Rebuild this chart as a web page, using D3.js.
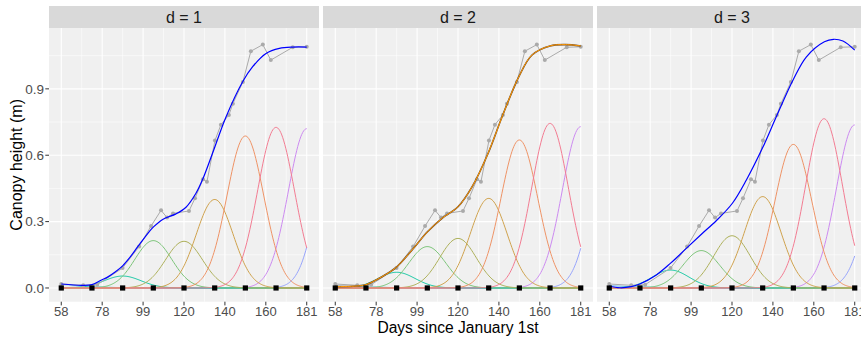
<!DOCTYPE html>
<html>
<head>
<meta charset="utf-8">
<script src="https://cdn.jsdelivr.net/npm/d3@7"></script>
<style>
  body { margin: 0; background: #fff; }
  svg { display: block; font-family: "Liberation Sans", Arial, sans-serif; }
</style>
</head>
<body>
<svg id="chart" width="861" height="338"></svg>
<script>
// facets
const panels = ["d = 1", "d = 2", "d = 3"];

// x axis
const xBreaks = [58, 78.5, 99, 119.5, 140, 160.5, 181];
const xLabels = ["58", "78", "99", "120", "140", "160", "181"];
const yBreaks = [0, 0.3, 0.6, 0.9];
const yLabels = ["0.0", "0.3", "0.6", "0.9"];

// kernel centres (last one sits past the data range)
const knots = [58, 73.375, 88.75, 104.125, 119.5, 134.875, 150.25, 165.625, 181, 196.375];
const kernelSd = 9.23;

// kernel heights per facet
const bumps1 = [0.015, 0.005, 0.054, 0.214, 0.211, 0.40, 0.687, 0.726, 0.72, 0.74];
const bumps2 = [0.008, 0.005, 0.071, 0.187, 0.224, 0.405, 0.669, 0.744, 0.729, 0.72];
const bumps3 = [0.010, 0.005, 0.081, 0.169, 0.236, 0.413, 0.649, 0.765, 0.737, 0.58];

// observed canopy height
const obsDays = [58, 69, 76, 88.7, 97, 103, 108, 111, 114, 122, 125, 129, 131, 135, 138, 142, 144, 149, 153, 159, 163, 174, 181];
const obsHeight = [0.018, 0.012, 0.015, 0.090, 0.187, 0.280, 0.351, 0.318, 0.337, 0.348, 0.405, 0.491, 0.480, 0.666, 0.738, 0.782, 0.833, 0.931, 1.070, 1.100, 1.030, 1.088, 1.090];

// fitted curves
const fitDays1 = [58, 68.2, 73.4, 78.2, 81, 85, 88.75, 92.1, 96.6, 102.1, 104.1, 108.8, 115.5, 120.5, 125.5, 128.8, 133.8, 140.6, 148.9, 153.9, 160.6, 167.3, 174, 181];
const fit1 = [0.018, 0.012, 0.015, 0.036, 0.048, 0.072, 0.10, 0.135, 0.19, 0.255, 0.275, 0.31, 0.335, 0.365, 0.428, 0.49, 0.609, 0.774, 0.932, 1.00, 1.06, 1.083, 1.089, 1.089];
const fitDays2 = [58, 69, 73.4, 81.4, 88.5, 96.5, 104.2, 111.5, 119.5, 126.6, 134.6, 141.6, 150, 156.6, 165.6, 173.3, 181];
const fit2 = [0.006, 0.009, 0.015, 0.051, 0.093, 0.172, 0.254, 0.315, 0.367, 0.458, 0.609, 0.774, 0.955, 1.053, 1.094, 1.100, 1.094];
const fitDays3 = [58, 63.3, 69, 73.3, 81.6, 88.6, 96.6, 104.3, 111.6, 119.7, 126.7, 134.7, 141.7, 150.1, 156.8, 165.8, 170.4, 175.1, 181];
const fit3 = [0.009, 0.001, 0.006, 0.018, 0.059, 0.111, 0.179, 0.244, 0.304, 0.383, 0.488, 0.631, 0.774, 0.940, 1.045, 1.113, 1.124, 1.116, 1.075];

const bumpColors = ["#6cb8f0", "#50c4d0", "#1cc8a5", "#7dc47a", "#adb05a", "#cfa24e", "#ee9366", "#f27c92", "#cc8af0", "#97a4fb"];
const drawOrder = [8, 9, 0, 1, 2, 3, 4, 5, 6, 7];

const svg = d3.select("#chart");
const panelW = 270;
const panelLefts = [49, 323, 597];
const panelTop = 28, panelBottom = 301.7;

const y = d3.scaleLinear().domain([-0.062, 1.175]).range([panelBottom, panelTop]);
const bumpSets = [bumps1, bumps2, bumps3];
const fits = [[fitDays1, fit1], [fitDays2, fit2], [fitDays3, fit3]];
const gridDays = d3.range(0, 13).map(i => 58 + i * 10.25);
const yMinor = [0.15, 0.45, 0.75, 1.05];

panels.forEach((label, p) => {
  const left = panelLefts[p];
  const x = d3.scaleLinear().domain([58 - 6.15, 181 + 6.15]).range([left, left + panelW]);
  const g = svg.append("g");

  g.append("clipPath").attr("id", "clip" + p)
    .append("rect").attr("x", left).attr("y", panelTop).attr("width", panelW).attr("height", panelBottom - panelTop);

  g.append("rect")
    .attr("x", left).attr("y", panelTop)
    .attr("width", panelW).attr("height", panelBottom - panelTop)
    .attr("fill", "#f0f0f0");

  // grid
  g.selectAll("line.ymin").data(yMinor).join("line")
    .attr("class", "ymin")
    .attr("x1", left).attr("x2", left + panelW)
    .attr("y1", d => y(d)).attr("y2", d => y(d))
    .attr("stroke", "#fff").attr("stroke-width", 0.55);
  g.selectAll("line.xgrid").data(gridDays).join("line")
    .attr("class", "xgrid")
    .attr("y1", panelTop).attr("y2", panelBottom)
    .attr("x1", d => x(d)).attr("x2", d => x(d))
    .attr("stroke", "#fff").attr("stroke-width", (d, i) => i % 2 === 0 ? 1.1 : 0.55);
  g.selectAll("line.ymaj").data(yBreaks).join("line")
    .attr("class", "ymaj")
    .attr("x1", left).attr("x2", left + panelW)
    .attr("y1", d => y(d)).attr("y2", d => y(d))
    .attr("stroke", "#fff").attr("stroke-width", 1.1);

  const plot = g.append("g").attr("clip-path", `url(#clip${p})`);

  // kernel bumps
  const days = d3.range(58, 181.01, 0.5);
  const line = d3.line().x(d => x(d[0])).y(d => y(d[1]));
  drawOrder.forEach(k => {
    const h = bumpSets[p][k];
    const pts = days.map(t => [t, h * Math.exp(-((t - knots[k]) ** 2) / (2 * kernelSd * kernelSd))]);
    plot.append("path")
      .attr("d", line(pts))
      .attr("fill", "none")
      .attr("stroke", bumpColors[k])
      .attr("stroke-width", 1);
  });

  // observed
  const obs = obsDays.map((d, i) => [d, obsHeight[i]]);
  plot.append("path")
    .attr("d", line(obs))
    .attr("fill", "none")
    .attr("stroke", "#aaaaaa")
    .attr("stroke-width", 1);
  plot.selectAll("circle").data(obs).join("circle")
    .attr("cx", d => x(d[0])).attr("cy", d => y(d[1]))
    .attr("r", 2).attr("fill", "#aaaaaa");

  // fit
  const smooth = d3.line().curve(d3.curveCatmullRom.alpha(0.5)).x(d => x(d[0])).y(d => y(d[1]));
  const fitPts = fits[p][0].map((d, i) => [d, fits[p][1][i]]);
  plot.append("path")
    .attr("d", smooth(fitPts))
    .attr("fill", "none")
    .attr("stroke", p === 1 ? "#6a4a30" : "#0000ff")
    .attr("stroke-width", p === 1 ? 1.6 : 1.2);
  if (p === 1) {
    plot.append("path")
      .attr("d", smooth(fitPts))
      .attr("fill", "none")
      .attr("stroke", "#ff9900")
      .attr("stroke-width", 1);
  }

  // knots
  plot.selectAll("rect.knot").data(knots.slice(0, 9)).join("rect")
    .attr("class", "knot")
    .attr("x", d => x(d) - 2.6).attr("y", y(0) - 2.6)
    .attr("width", 5.2).attr("height", 5.2)
    .attr("fill", "#000");

  // strip
  g.append("rect")
    .attr("x", left).attr("y", 6)
    .attr("width", panelW).attr("height", 22)
    .attr("fill", "#d9d9d9");
  g.append("text")
    .attr("x", left + panelW / 2).attr("y", 22.5)
    .attr("text-anchor", "middle")
    .attr("font-size", 16)
    .attr("fill", "#1a1a1a")
    .text(label);

  // x ticks
  g.selectAll("line.xt").data(xBreaks).join("line")
    .attr("class", "xt")
    .attr("x1", d => x(d)).attr("x2", d => x(d))
    .attr("y1", panelBottom).attr("y2", panelBottom + 3.7)
    .attr("stroke", "#333").attr("stroke-width", 1);
  g.selectAll("text.xl").data(xBreaks).join("text")
    .attr("class", "xl")
    .attr("x", d => x(d)).attr("y", 315.8)
    .attr("text-anchor", "middle")
    .attr("font-size", 13)
    .attr("fill", "#4d4d4d")
    .text((d, i) => xLabels[i]);
});

// y axis on first panel
svg.selectAll("line.yt").data(yBreaks).join("line")
  .attr("class", "yt")
  .attr("x1", 45.3).attr("x2", 49)
  .attr("y1", d => y(d)).attr("y2", d => y(d))
  .attr("stroke", "#333").attr("stroke-width", 1);
svg.selectAll("text.yl").data(yBreaks).join("text")
  .attr("class", "yl")
  .attr("x", 44).attr("y", d => y(d) + 4.7)
  .attr("text-anchor", "end")
  .attr("font-size", 13.5)
  .attr("fill", "#4d4d4d")
  .text((d, i) => yLabels[i]);

svg.append("text")
  .attr("transform", `translate(22, ${(panelTop + panelBottom) / 2}) rotate(-90)`)
  .attr("text-anchor", "middle")
  .attr("font-size", 16)
  .attr("fill", "#000")
  .text("Canopy height (m)");

svg.append("text")
  .attr("x", 458).attr("y", 332.5)
  .attr("text-anchor", "middle")
  .attr("font-size", 15.6)
  .attr("fill", "#000")
  .text("Days since January 1st");
</script>
</body>
</html>
